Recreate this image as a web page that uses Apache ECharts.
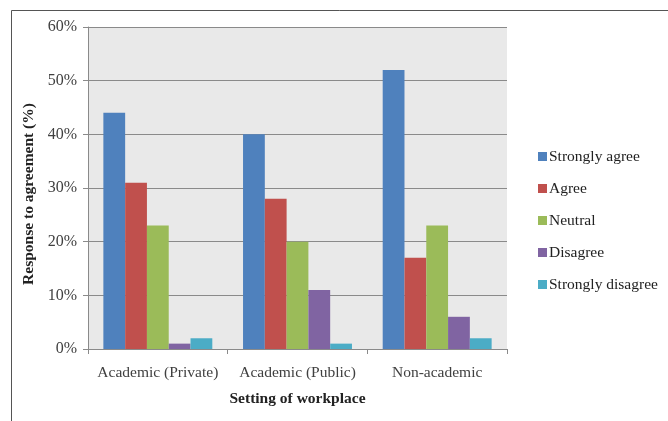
<!DOCTYPE html>
<html>
<head>
<meta charset="utf-8">
<script src="https://cdn.jsdelivr.net/npm/echarts@6/dist/echarts.min.js"></script>
<style>
html,body{margin:0;padding:0;background:#fff;}
#c{width:668px;height:421px;}
</style>
</head>
<body>
<div id="c"></div>
<script>
const categories = ['Academic (Private)', 'Academic (Public)', 'Non-academic'];
const stronglyAgree = [44, 40, 52];
const agree = [31, 28, 17];
const neutral = [23, 20, 23];
const disagree = [1, 11, 6];
const stronglyDisagree = [2, 1, 2];
const seriesNames = ['Strongly agree', 'Agree', 'Neutral', 'Disagree', 'Strongly disagree'];
const colors = ['#4F81BD', '#C0504D', '#9BBB59', '#8064A2', '#4BACC6'];
const seriesData = [stronglyAgree, agree, neutral, disagree, stronglyDisagree];

const font = 'Liberation Serif';
const chart = echarts.init(document.getElementById('c'), null, {renderer: 'canvas'});
chart.setOption({
  animation: false,
  backgroundColor: '#ffffff',
  color: colors,
  graphic: [
    {type: 'line', shape: {x1: 11.5, y1: 10.5, x2: 668, y2: 10.5}, style: {stroke: '#555', lineWidth: 1}},
    {type: 'line', shape: {x1: 11.5, y1: 10.5, x2: 11.5, y2: 421}, style: {stroke: '#555', lineWidth: 1}}
  ],
  grid: {
    left: 88, right: 161, top: 27, bottom: 72,
    show: true, backgroundColor: '#e9e9e9', borderWidth: 0
  },
  legend: {
    orient: 'vertical',
    left: 533, top: 143,
    itemWidth: 9, itemHeight: 9, itemGap: 15,
    icon: 'rect',
    textStyle: {fontFamily: font, fontSize: 15.5, color: '#222', lineHeight: 17, padding: [0, 0, 0, -3]},
    data: seriesNames
  },
  xAxis: {
    type: 'category',
    data: categories,
    axisLine: {lineStyle: {color: '#8a8a8a'}},
    axisTick: {show: true, length: 5, lineStyle: {color: '#8a8a8a'}},
    axisLabel: {fontFamily: font, fontSize: 15.5, color: '#404040', margin: 16, interval: 0},
    name: 'Setting of workplace',
    nameLocation: 'middle',
    nameGap: 42,
    nameTextStyle: {fontFamily: font, fontSize: 15.5, fontWeight: 'bold', color: '#222'}
  },
  yAxis: {
    type: 'value',
    min: 0, max: 60, interval: 10,
    axisLine: {show: true, lineStyle: {color: '#8a8a8a'}},
    axisTick: {show: true, length: 5, lineStyle: {color: '#8a8a8a'}},
    splitLine: {lineStyle: {color: '#8a8a8a', width: 1}},
    axisLabel: {fontFamily: font, fontSize: 16, color: '#404040', margin: 11, formatter: '{value}%'},
    name: 'Response to agreement (%)',
    nameLocation: 'middle',
    nameRotate: 90,
    nameGap: 43,
    nameTextStyle: {fontFamily: font, fontSize: 15.5, fontWeight: 'bold', color: '#222', padding: [0, 12, 0, 0]}
  },
  series: seriesNames.map((n, i) => ({
    name: n,
    type: 'bar',
    data: seriesData[i],
    barGap: '0%',
    barCategoryGap: '22%',
    itemStyle: {color: colors[i]}
  }))
});
</script>
</body>
</html>
